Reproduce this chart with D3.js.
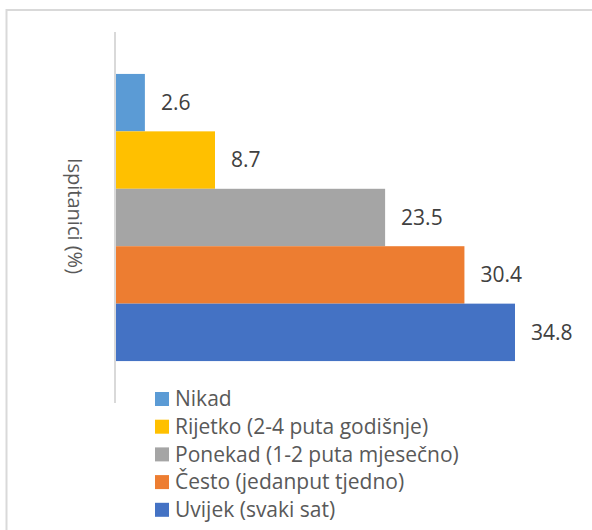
<!DOCTYPE html>
<html>
<head>
<meta charset="utf-8">
<script src="https://cdn.jsdelivr.net/npm/d3@7"></script>
<style>
  html, body { margin: 0; padding: 0; background: #fff; }
  svg { display: block; font-family: "Open Sans", "Noto Sans", sans-serif; }
</style>
</head>
<body>
<svg id="chart" width="592" height="530"></svg>
<script>
const categories = ["Nikad", "Rijetko (2-4 puta godišnje)", "Ponekad (1-2 puta mjesečno)", "Često (jedanput tjedno)", "Uvijek (svaki sat)"];
const values = [2.6, 8.7, 23.5, 30.4, 34.8];
const colors = ["#5B9BD5", "#FFC000", "#A5A5A5", "#ED7D31", "#4472C4"];
const axisTitle = "Ispitanici (%)";

const svg = d3.select("#chart");

// chart border
svg.append("rect")
  .attr("x", 6.5).attr("y", 10)
  .attr("width", 700).attr("height", 700)
  .attr("fill", "none").attr("stroke", "#d9d9d9").attr("stroke-width", 2);

const x = d3.scaleLinear().domain([0, 34.8]).range([115, 515]);
const y = d3.scaleBand().domain(categories).range([32, 403]).paddingInner(0).paddingOuter(0.73);

// bars
svg.append("g").selectAll("rect")
  .data(categories)
  .join("rect")
  .attr("x", x(0))
  .attr("y", d => y(d))
  .attr("width", (d, i) => x(values[i]) - x(0))
  .attr("height", y.bandwidth())
  .attr("fill", (d, i) => colors[i]);

// vertical axis line
const axis = d3.axisLeft(y).tickSize(0).tickFormat("");
const ag = svg.append("g").attr("transform", `translate(${x(0)},0)`).call(axis);
ag.select(".domain").attr("stroke", "#d9d9d9").attr("stroke-width", 2)
  .attr("d", "M0,32V403");

// value labels
svg.append("g").selectAll("text")
  .data(categories)
  .join("text")
  .attr("x", (d, i) => x(values[i]) + 16)
  .attr("y", d => y(d) + y.bandwidth() / 2)
  .attr("dy", "0.35em")
  .attr("font-size", 21)
  .attr("fill", "#404040")
  .text((d, i) => values[i].toFixed(1));

// axis title
svg.append("text")
  .attr("transform", "translate(75,216) rotate(90)")
  .attr("text-anchor", "middle")
  .attr("dy", "0.35em")
  .attr("font-size", 20)
  .attr("fill", "#595959")
  .text(axisTitle);

// legend
const lg = svg.append("g");
const rows = lg.selectAll("g").data(categories).join("g")
  .attr("transform", (d, i) => `translate(155,${399 + i * 27.7})`);
rows.append("rect").attr("x", 0).attr("y", -7).attr("width", 14).attr("height", 14)
  .attr("fill", (d, i) => colors[i]);
rows.append("text").attr("x", 20).attr("dy", "0.35em")
  .attr("font-size", 21).attr("fill", "#595959")
  .text(d => d);
</script>
</body>
</html>
